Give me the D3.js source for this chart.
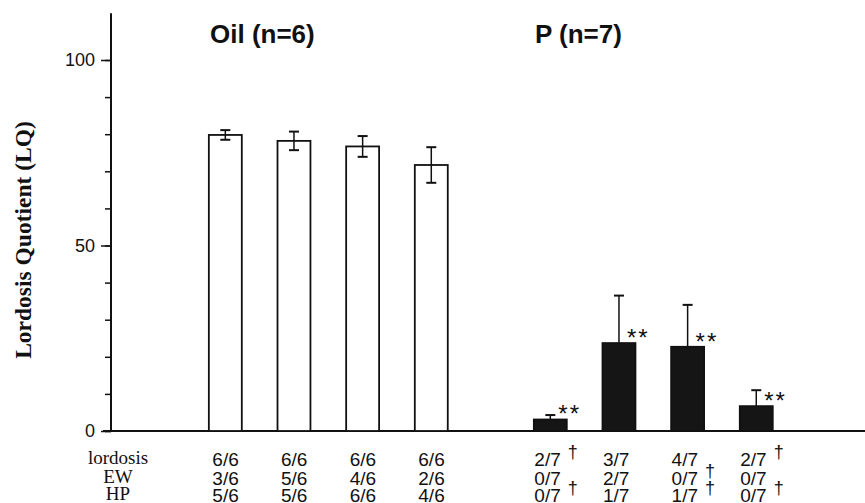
<!DOCTYPE html>
<html>
<head>
<meta charset="utf-8">
<script src="https://cdn.jsdelivr.net/npm/d3@7"></script>
<style>
  body { margin: 0; background: #fff; }
  svg { display: block; }
  .tick text { font-family: "Liberation Sans", Arial, sans-serif; font-size: 18px; fill: #111; }
  .title { font-family: "Liberation Sans", Arial, sans-serif; font-size: 26px; font-weight: bold; fill: #111; }
  .ylabel { font-family: "Liberation Serif", "Times New Roman", serif; font-size: 23.5px; font-weight: bold; fill: #111; }
  .rowlabel { font-family: "Liberation Serif", "Times New Roman", serif; font-size: 19px; fill: #111; }
  .cell { font-family: "Liberation Sans", Arial, sans-serif; font-size: 19px; fill: #111; }
  .stars { font-family: "Liberation Sans", Arial, sans-serif; font-size: 24px; fill: #111; letter-spacing: 2px; }
</style>
</head>
<body>
<div id="graphic"></div>
<script>
const width = 865;
const height = 503;

// data
const groups = ["Oil", "P"];
const groupTitles = ["Oil (n=6)", "P (n=7)"];
const sessions = ["1", "2", "3", "4"];
const oilLQ = [79.8, 78.2, 76.7, 71.7];
const oilSEM = [1.3, 2.5, 2.8, 4.8];
const pLQ = [3.1, 23.7, 22.7, 6.7];
const pSEM = [1.2, 12.8, 11.3, 4.3];
const pStars = ["**", "**", "**", "**"];
const rowLabels = ["lordosis", "EW", "HP"];
const oilRows = [
  ["6/6", "6/6", "6/6", "6/6"],
  ["3/6", "5/6", "4/6", "2/6"],
  ["5/6", "5/6", "6/6", "4/6"]
];
const pRows = [
  ["2/7", "3/7", "4/7", "2/7"],
  ["0/7", "2/7", "0/7", "0/7"],
  ["0/7", "1/7", "1/7", "0/7"]
];
const pDagger = [
  [true, false, false, true],
  [false, false, true, false],
  [true, false, true, true]
];

const svg = d3.select('#graphic')
  .append('svg')
  .attr('width', width)
  .attr('height', height);

const scaleY = d3.scaleLinear()
  .domain([0, 100])
  .range([431, 60]);

const scaleGroup = d3.scaleBand()
  .domain(groups)
  .range([191, 790.6])
  .paddingInner(0.155);

const scaleX = d3.scaleBand()
  .domain(sessions)
  .range([0, scaleGroup.bandwidth()])
  .paddingInner(0.52)
  .paddingOuter(0.26);

const bars = [];
groups.forEach((g, gi) => {
  sessions.forEach((s, si) => {
    bars.push({
      group: g,
      session: s,
      value: gi === 0 ? oilLQ[si] : pLQ[si],
      sem: gi === 0 ? oilSEM[si] : pSEM[si],
      stars: gi === 0 ? '' : pStars[si],
      rows: (gi === 0 ? oilRows : pRows).map(r => r[si]),
      dagger: gi === 0 ? [false, false, false] : pDagger.map(r => r[si])
    });
  });
});

function barX(d) { return scaleGroup(d.group) + scaleX(d.session); }
function barMid(d) { return barX(d) + scaleX.bandwidth() / 2; }

// baseline
svg.append('line')
  .attr('x1', 103).attr('x2', width)
  .attr('y1', scaleY(0)).attr('y2', scaleY(0))
  .attr('stroke', '#111').attr('stroke-width', 2);

// y axis: minor ticks then labelled ticks
const axisX = 111;
svg.append('g')
  .attr('transform', `translate(${axisX},0)`)
  .call(d3.axisLeft(scaleY).tickValues(d3.range(0, 101, 10)).tickSize(6).tickFormat(''))
  .call(g => g.select('.domain').remove())
  .selectAll('line').attr('stroke', '#111').attr('stroke-width', 1.5);

svg.append('g')
  .attr('transform', `translate(${axisX},0)`)
  .call(d3.axisLeft(scaleY).tickValues([0, 50, 100]).tickSize(10).tickPadding(6))
  .call(g => g.select('.domain').remove())
  .call(g => g.selectAll('line').attr('stroke', '#111').attr('stroke-width', 1.5));

svg.append('line')
  .attr('x1', axisX).attr('x2', axisX)
  .attr('y1', scaleY(112.6)).attr('y2', scaleY(0))
  .attr('stroke', '#111').attr('stroke-width', 2);

svg.append('text')
  .attr('class', 'ylabel')
  .attr('transform', 'translate(31,240) rotate(-90)')
  .attr('text-anchor', 'middle')
  .text('Lordosis Quotient (LQ)');

// group titles
svg.selectAll('.title')
  .data(groups)
  .enter()
  .append('text')
  .attr('class', 'title')
  .attr('x', g => scaleGroup(g) + 19)
  .attr('y', 43)
  .text((g, i) => groupTitles[i]);

// bars
const barGroup = svg.selectAll('.bar')
  .data(bars)
  .enter()
  .append('g')
  .attr('class', 'bar');

barGroup.append('rect')
  .attr('x', barX)
  .attr('y', d => scaleY(d.value))
  .attr('width', scaleX.bandwidth())
  .attr('height', d => scaleY(0) - scaleY(d.value))
  .attr('fill', d => d.group === 'Oil' ? '#fff' : '#151515')
  .attr('stroke', '#111')
  .attr('stroke-width', 1.8);

// error bars: oil both ways, P upward only
const capW = 5;
barGroup.append('line')
  .attr('x1', barMid).attr('x2', barMid)
  .attr('y1', d => scaleY(d.value + d.sem))
  .attr('y2', d => d.group === 'Oil' ? scaleY(d.value - d.sem) : scaleY(d.value))
  .attr('stroke', '#111').attr('stroke-width', 1.5);

barGroup.append('line')
  .attr('x1', d => barMid(d) - capW).attr('x2', d => barMid(d) + capW)
  .attr('y1', d => scaleY(d.value + d.sem)).attr('y2', d => scaleY(d.value + d.sem))
  .attr('stroke', '#111').attr('stroke-width', 2);

barGroup.filter(d => d.group === 'Oil')
  .append('line')
  .attr('x1', d => barMid(d) - capW).attr('x2', d => barMid(d) + capW)
  .attr('y1', d => scaleY(d.value - d.sem)).attr('y2', d => scaleY(d.value - d.sem))
  .attr('stroke', '#111').attr('stroke-width', 2);

barGroup.filter(d => d.stars)
  .append('text')
  .attr('class', 'stars')
  .attr('x', d => barMid(d) + 8)
  .attr('y', d => scaleY(d.value) + 3)
  .text(d => d.stars);

// table under the chart
const rowY = [466, 484.5, 502];
svg.selectAll('.rowlabel')
  .data(rowLabels)
  .enter()
  .append('text')
  .attr('class', 'rowlabel')
  .attr('x', 118)
  .attr('y', (d, i) => rowY[i] - 2)
  .attr('text-anchor', 'middle')
  .text(d => d);

rowLabels.forEach((r, ri) => {
  const cell = svg.selectAll('.cell-' + ri)
    .data(bars)
    .enter()
    .append('text')
    .attr('class', 'cell cell-' + ri)
    .attr('x', d => barMid(d) - (d.group === 'Oil' ? 13 : 16))
    .attr('y', rowY[ri]);
  cell.append('tspan').text(d => d.rows[ri]);
  cell.filter(d => d.dagger[ri])
    .append('tspan')
    .attr('dx', 7)
    .attr('dy', -8)
    .attr('font-size', 18)
    .text('\u2020');
});
</script>
</body>
</html>
